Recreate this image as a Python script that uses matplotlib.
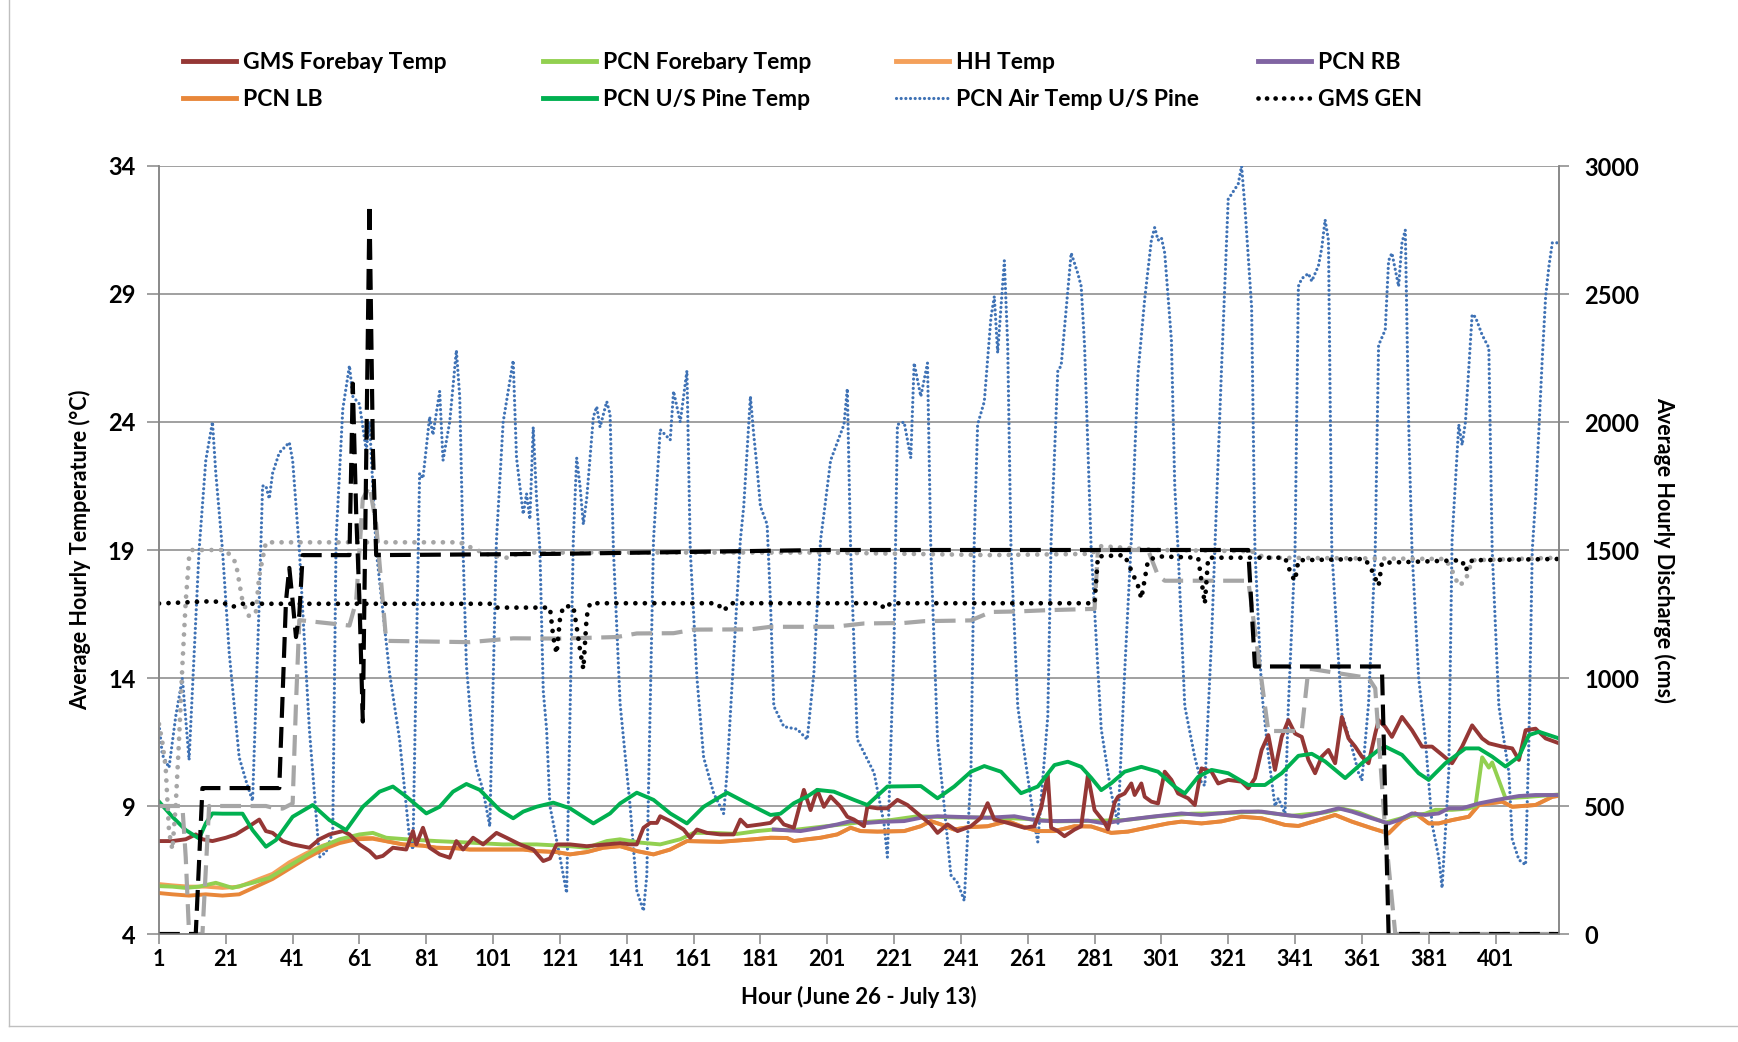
import matplotlib
matplotlib.use("Agg")
import matplotlib.pyplot as plt
from matplotlib.lines import Line2D

plt.rcParams['font.family'] = ['Lato', 'DejaVu Sans']
plt.rcParams['font.weight'] = 'bold'

# ---------------- data ----------------
x_ticks = [1, 21, 41, 61, 81, 101, 121, 141, 161, 181, 201, 221, 241, 261, 281, 301, 321, 341, 361, 381, 401]
temp_ticks = [4, 9, 14, 19, 24, 29, 34]
flow_ticks = [0, 500, 1000, 1500, 2000, 2500, 3000]

# PCN Air Temp U/S Pine (deg C)
air_h = [1, 2, 4, 6, 8, 10, 13, 15, 17, 18, 20, 22, 25, 27, 29, 31, 32, 33, 34, 35, 37, 40, 41, 43, 46, 49, 51, 53,
         54, 56, 58, 59, 61, 63, 64, 66, 70, 73, 76, 77, 79, 80, 82, 83, 85, 86, 88, 90, 91, 92, 93, 95, 96, 98, 100,
         102, 104, 107, 108, 109, 110, 111, 112, 113, 114, 115, 116, 117, 118, 121, 123, 125, 126, 127, 128, 129, 131,
         132, 133, 135, 136, 137, 139, 142, 144, 146, 147, 149, 151, 154, 155, 157, 159, 160, 162, 164, 167, 170, 171,
         175, 176, 178, 179, 180, 181, 183, 184, 185, 188, 192, 195, 197, 199, 200, 202, 206, 207, 208, 210, 215, 218,
         219, 221, 222, 224, 226, 227, 229, 231, 232, 234, 236, 238, 240, 242, 244, 245, 246, 248, 250, 251, 252, 254,
         255, 256, 258, 263, 264, 267, 268, 270, 271, 274, 276, 277, 278, 280, 283, 286, 288, 290, 292, 294, 296, 298,
         299, 300, 301, 302, 304, 305, 306, 308, 311, 313, 314, 316, 317, 319, 321, 324, 325, 326, 328, 329, 331, 333,
         335, 336, 338, 339, 341, 342, 343, 345, 346, 348, 349, 350, 351, 352, 355, 358, 360, 361, 363, 365, 366, 368,
         369, 370, 372, 373, 374, 375, 376, 378, 380, 382, 384, 385, 386, 387, 388, 390, 391, 392, 394, 395, 397, 399,
         400, 402, 405, 406, 408, 410, 411, 412, 413, 415, 416, 417, 418, 420]
air_t = [12.2, 11.0, 10.5, 12.5, 14.0, 10.8, 19.0, 22.5, 24.0, 22.0, 19.0, 15.0, 10.9, 10.0, 9.2, 17.0, 21.5, 21.5,
         21.0, 22.0, 22.8, 23.2, 22.5, 19.0, 12.0, 7.0, 7.2, 8.0, 19.4, 24.5, 26.2, 25.0, 24.7, 22.9, 24.0, 19.0, 14.2,
         11.6, 7.7, 7.3, 22.0, 21.8, 24.2, 23.5, 25.2, 22.5, 24.0, 26.8, 25.0, 19.0, 14.5, 11.3, 10.5, 9.6, 8.2, 19.4,
         24.0, 26.4, 22.6, 21.5, 20.4, 21.2, 20.2, 23.8, 21.0, 19.0, 13.5, 12.0, 9.0, 7.0, 5.6, 19.4, 22.6, 21.5, 20.0,
         21.0, 24.2, 24.6, 23.8, 24.8, 24.3, 19.0, 13.0, 9.0, 5.7, 4.9, 6.3, 19.4, 23.7, 23.3, 25.2, 24.0, 26.0, 19.0,
         14.0, 10.9, 9.5, 8.7, 10.3, 19.4, 20.7, 25.0, 23.5, 22.2, 20.7, 20.0, 17.0, 12.9, 12.1, 12.0, 11.6, 14.2,
         19.4, 20.4, 22.5, 23.9, 25.3, 19.0, 11.6, 10.3, 8.3, 7.0, 15.5, 23.9, 24.0, 22.6, 26.3, 25.0, 26.3, 19.0,
         11.6, 9.0, 6.3, 6.0, 5.3, 10.3, 19.4, 23.9, 24.8, 28.1, 28.9, 26.7, 30.3, 27.0, 19.0, 12.9, 8.3, 7.6, 12.5,
         19.4, 26.0, 26.2, 30.6, 29.8, 29.3, 27.0, 19.0, 12.0, 9.5, 8.3, 14.2, 19.4, 25.9, 28.8, 31.1, 31.6, 31.1,
         31.2, 30.6, 27.2, 21.5, 19.0, 12.9, 10.9, 9.9, 9.8, 15.5, 19.0, 26.1, 32.7, 33.3, 34.0, 32.4, 28.5, 19.0,
         13.5, 11.0, 9.0, 9.3, 8.7, 12.9, 19.0, 29.3, 29.6, 29.8, 29.5, 30.1, 30.8, 31.9, 31.1, 19.0, 12.6, 11.3,
         10.3, 10.0, 13.0, 19.0, 27.0, 27.6, 30.3, 30.6, 29.3, 31.0, 31.5, 24.0, 19.0, 14.0, 11.6, 8.3, 7.0, 5.8, 8.0,
         10.3, 19.4, 23.9, 23.1, 24.0, 28.2, 28.1, 27.4, 26.9, 19.0, 12.9, 10.3, 7.7, 6.9, 6.7, 11.6, 19.0, 21.0,
         26.5, 28.9, 30.1, 31.0, 31.0]

# PCN U/S Pine Temp
pine_h = [1, 5, 9, 13, 15, 17, 20, 26, 29, 33, 36, 41, 47, 52, 57, 62, 67, 71, 75, 81, 85, 89, 93, 97, 103, 107, 110,
          114, 119, 124, 131, 136, 139, 144, 149, 154, 159, 164, 171, 177, 184, 187, 191, 195, 198, 203, 209, 213, 219,
          229, 234, 239, 244, 248, 253, 259, 264, 269, 273, 277, 280, 283, 286, 290, 295, 300, 305, 308, 312, 316, 321,
          327, 332, 337, 342, 346, 350, 356, 361, 366, 368, 373, 378, 381, 386, 392, 396, 400, 404, 408, 411, 414, 420]
pine_t = [9.17, 8.58, 8.06, 7.73, 8.32, 8.71, 8.7, 8.7, 8.06, 7.41, 7.67, 8.58, 9.04, 8.45, 8.06, 8.97, 9.56, 9.76,
          9.37, 8.71, 8.97, 9.56, 9.86, 9.63, 8.84, 8.52, 8.78, 8.97, 9.13, 8.91, 8.32, 8.71, 9.1, 9.52, 9.24, 8.71,
          8.32, 8.97, 9.52, 9.11, 8.65, 8.7, 9.11, 9.37, 9.63, 9.56, 9.24, 9.04, 9.76, 9.78, 9.3, 9.76, 10.34, 10.56,
          10.34, 9.5, 9.76, 10.6, 10.73, 10.53, 10.1, 9.62, 9.89, 10.34, 10.53, 10.34, 9.75, 9.49, 10.14, 10.41,
          10.28, 9.82, 9.82, 10.28, 10.96, 11.04, 10.74, 10.09, 10.67, 11.19, 11.32, 11.0, 10.28, 10.02, 10.67, 11.25,
          11.25, 10.93, 10.54, 10.93, 11.77, 11.9, 11.64]

# GMS Forebay Temp
gms_h = [1, 5, 9, 12, 14, 17, 21, 24, 28, 31, 33, 35, 38, 41, 46, 49, 52, 56, 58, 61, 64, 66, 68, 71, 75, 77, 78, 80,
         82, 85, 88, 90, 92, 95, 98, 102, 105, 109, 113, 116, 118, 120, 124, 129, 135, 139, 142, 144, 146, 148, 150,
         151, 154, 158, 160, 162, 165, 169, 173, 175, 177, 181, 184, 186, 188, 191, 194, 196, 198, 200, 202, 205, 207,
         209, 212, 213, 216, 219, 222, 225, 228, 232, 234, 237, 240, 244, 247, 249, 251, 255, 260, 263, 265, 267, 268,
         270, 272, 275, 277, 279, 281, 284, 285, 287, 288, 290, 292, 293, 295, 296, 298, 300, 302, 304, 306, 309, 311,
         313, 316, 318, 321, 325, 327, 329, 331, 333, 335, 337, 339, 341, 343, 345, 347, 349, 351, 353, 355, 357, 359,
         361, 363, 365, 366, 368, 370, 373, 376, 379, 382, 385, 388, 391, 394, 397, 399, 403, 406, 408, 410, 413, 416,
         420]
gms_t = [7.63, 7.63, 7.7, 7.89, 7.7, 7.63, 7.76, 7.89, 8.21, 8.47, 8.02, 7.95, 7.63, 7.5, 7.37, 7.7, 7.89, 8.02,
         7.89, 7.5, 7.24, 6.98, 7.05, 7.37, 7.3, 8.02, 7.5, 8.15, 7.37, 7.11, 6.98, 7.63, 7.3, 7.76, 7.5, 7.95, 7.76,
         7.5, 7.3, 6.85, 6.95, 7.5, 7.5, 7.43, 7.5, 7.55, 7.5, 7.5, 8.15, 8.34, 8.34, 8.6, 8.41, 8.08, 7.76, 8.08,
         7.95, 7.89, 7.89, 8.47, 8.21, 8.28, 8.34, 8.6, 8.28, 8.15, 9.63, 8.84, 9.63, 8.97, 9.37, 8.97, 8.58, 8.47,
         8.21, 8.97, 8.91, 8.91, 9.24, 9.04, 8.71, 8.28, 7.95, 8.28, 8.02, 8.21, 8.54, 9.11, 8.47, 8.34, 8.15, 8.21,
         8.91, 10.21, 8.15, 8.02, 7.82, 8.08, 8.21, 10.2, 8.84, 8.35, 8.09, 9.13, 9.36, 9.49, 9.88, 9.43, 9.88, 9.36,
         9.17, 9.1, 10.34, 10.02, 9.49, 9.3, 9.04, 10.47, 10.34, 9.88, 10.02, 9.95, 9.69, 10.08, 11.19, 11.77, 10.41,
         11.7, 12.35, 11.83, 11.7, 10.8, 10.28, 10.93, 11.19, 10.67, 12.48, 11.64, 11.32, 10.93, 10.67, 11.83, 12.35,
         12.09, 11.7, 12.48, 11.96, 11.32, 11.32, 11.0, 10.67, 11.32, 12.15, 11.64, 11.45, 11.32, 11.25, 10.8, 11.96,
         12.02, 11.64, 11.45]

# PCN Forebary Temp
fb_h = [1, 5, 9, 13, 18, 23, 29, 34, 39, 44, 49, 55, 61, 65, 69, 75, 84, 94, 104, 114, 124, 129, 135, 139, 145, 151,
        157, 161, 167, 174, 180, 185, 190, 200, 210, 220, 228, 240, 250, 260, 270, 280, 290, 300, 310, 320, 330, 340,
        350, 355, 360, 368, 375, 380, 383, 388, 393, 395, 397, 399, 400, 402, 404, 410, 420]
fb_t = [5.87, 5.85, 5.8, 5.85, 6.0, 5.8, 6.0, 6.19, 6.58, 6.98, 7.37, 7.7, 7.89, 7.95, 7.76, 7.7, 7.63, 7.57, 7.5,
        7.5, 7.43, 7.37, 7.63, 7.7, 7.57, 7.5, 7.7, 7.95, 7.95, 7.91, 8.02, 8.08, 8.05, 8.2, 8.35, 8.45, 8.6, 8.55,
        8.55, 8.5, 8.4, 8.42, 8.45, 8.6, 8.7, 8.72, 8.78, 8.62, 8.75, 8.9, 8.75, 8.35, 8.6, 8.7, 8.85, 8.85, 8.9, 9.0,
        10.9, 10.5, 10.7, 10.0, 9.3, 9.35, 9.45]

# PCN RB
rb_h = [185, 193, 199, 204, 208, 213, 217, 224, 229, 234, 244, 249, 257, 264, 269, 279, 284, 290, 298, 307, 313, 318,
        325, 331, 338, 343, 348, 354, 358, 364, 369, 372, 376, 380, 384, 387, 391, 396, 401, 408, 413, 420]
rb_t = [8.08, 8.02, 8.15, 8.28, 8.41, 8.34, 8.38, 8.41, 8.54, 8.6, 8.56, 8.54, 8.6, 8.43, 8.41, 8.43, 8.32, 8.45,
        8.58, 8.71, 8.65, 8.71, 8.78, 8.78, 8.65, 8.58, 8.71, 8.91, 8.78, 8.52, 8.32, 8.45, 8.71, 8.65, 8.71, 8.91,
        8.91, 9.1, 9.23, 9.39, 9.43, 9.43]

# HH Temp
hh_h = [1, 5, 10, 15, 20, 25, 30, 35, 40, 45, 50, 55, 60, 65, 70, 74, 80, 84, 90, 94, 104, 110, 114, 120, 124, 129,
        134, 139, 144, 149, 154, 159, 169, 179, 184, 189, 191, 195, 199, 204, 208, 211, 216, 224, 229, 232, 235, 239,
        243, 249, 255, 259, 264, 269, 275, 280, 286, 291, 298, 303, 307, 313, 319, 325, 331, 338, 342, 348, 353, 358,
        364, 369, 373, 377, 381, 384, 388, 393, 396, 403, 406, 413, 418, 420]
hh_t = [5.95, 5.9, 5.85, 5.85, 5.8, 5.85, 6.1, 6.35, 6.8, 7.15, 7.45, 7.65, 7.78, 7.75, 7.6, 7.5, 7.45, 7.37, 7.35,
        7.3, 7.3, 7.3, 7.24, 7.2, 7.11, 7.2, 7.37, 7.43, 7.24, 7.11, 7.3, 7.63, 7.6, 7.7, 7.76, 7.75, 7.63, 7.7,
        7.76, 7.89, 8.15, 8.02, 8.0, 8.02, 8.21, 8.41, 8.28, 8.08, 8.17, 8.21, 8.41, 8.21, 8.02, 8.02, 8.21, 8.2,
        7.95, 8.0, 8.19, 8.32, 8.39, 8.32, 8.4, 8.58, 8.52, 8.26, 8.22, 8.45, 8.65, 8.39, 8.13, 7.93, 8.45, 8.71,
        8.32, 8.32, 8.45, 8.58, 9.04, 9.17, 8.97, 9.04, 9.36, 9.4]

# PCN LB (lower orange at the start, merging with HH Temp afterwards)
lb_early_h = [1, 5, 10, 15, 20, 25, 30, 35, 40, 45, 50, 55, 60, 65]
lb_early_t = [5.6, 5.55, 5.5, 5.55, 5.5, 5.55, 5.85, 6.15, 6.55, 6.95, 7.3, 7.55, 7.7, 7.72]

# GMS GEN (cms)
gen_h = [1, 17, 20, 23, 26, 100, 101, 118, 119, 120, 121, 122, 125, 126, 127, 128, 129, 130, 168, 170, 172, 217, 218,
         220, 281, 282, 290, 292, 294, 295, 297, 300, 312, 313, 314, 315, 338, 340, 341, 342, 362, 364, 366, 367, 391,
         392, 394, 420]
gen_q = [1291, 1300, 1295, 1278, 1290, 1290, 1275, 1275, 1160, 1095, 1230, 1280, 1280, 1200, 1110, 1035, 1240, 1292,
         1292, 1262, 1292, 1292, 1270, 1292, 1292, 1475, 1480, 1420, 1360, 1310, 1460, 1475, 1470, 1380, 1290, 1470,
         1470, 1400, 1380, 1460, 1465, 1420, 1360, 1450, 1460, 1420, 1460, 1465]

# black dashed discharge (no legend entry)
blk_h = [1, 12, 14, 37, 39, 40, 41, 42, 43, 44, 58, 59, 60, 61, 62, 64, 65, 66, 120, 200, 327, 329, 367, 369, 420]
blk_q = [0, 0, 570, 570, 1300, 1430, 1300, 1160, 1250, 1480, 1480, 2150, 1650, 1300, 830, 2850, 1900, 1480, 1485,
         1500, 1500, 1045, 1045, 0, 0]

# grey dashed discharge (no legend entry)
gds_h = [1, 8, 9, 10, 14, 15, 16, 33, 36, 38, 41, 42, 43, 58, 60, 62, 64, 66, 69, 94, 107, 121, 138, 144, 155, 161,
         178, 184, 203, 212, 224, 230, 244, 250, 258, 267, 281, 282, 297, 300, 302, 327, 333, 343, 345, 346, 363, 365,
         368, 371, 420]
gds_q = [500, 500, 300, 0, 0, 250, 500, 500, 490, 490, 510, 900, 1226, 1205, 1300, 1700, 1750, 1600, 1145, 1140, 1155,
         1154, 1160, 1174, 1175, 1189, 1190, 1200, 1200, 1213, 1215, 1222, 1225, 1258, 1260, 1265, 1270, 1500, 1500,
         1400, 1380, 1380, 793, 793, 1035, 1035, 1000, 960, 400, 0, 0]

# grey dotted discharge (no legend entry)
gdt_h = [1, 2, 3, 4, 5, 6, 7, 8, 9, 10, 11, 21, 24, 26, 28, 30, 31, 33, 91, 96, 100, 105, 110, 200, 250, 280, 283, 300,
         328, 332, 386, 388, 390, 392, 394, 420]
gdt_q = [820, 750, 650, 400, 330, 500, 760, 1050, 1300, 1470, 1500, 1500, 1450, 1300, 1240, 1260, 1400, 1530, 1530,
         1500, 1480, 1470, 1490, 1490, 1480, 1485, 1515, 1500, 1495, 1470, 1465, 1420, 1360, 1380, 1460, 1470]

lb_h = lb_early_h + [h for h in hh_h if h > 65]
lb_t = lb_early_t + [t for h, t in zip(hh_h, hh_t) if h > 65]

# ---------------- figure ----------------
W, H = 1738, 1042
fig = plt.figure(figsize=(W / 100, H / 100), dpi=100)
ax = fig.add_axes([159 / W, 1 - 934 / H, (1559 - 159) / W, (934 - 166) / H])
ax2 = ax.twinx()

grid_c = '#868686'
c_gms = '#953735'
c_fb = '#92D050'
c_hh = '#F4A05A'
c_rb = '#8064A2'
c_lb = '#E8873A'
c_pine = '#00B050'
c_air = '#3F72B5'
c_gray = '#A6A6A6'

dot = (0, (0.01, 1.45))
ax.plot(air_h, air_t, color=c_air, lw=2.3, linestyle=dot, dash_capstyle='round', zorder=2)
ax.plot(hh_h, hh_t, color=c_hh, lw=2.8, zorder=3)
ax.plot(lb_h, lb_t, color=c_lb, lw=2.8, zorder=3)
ax.plot(fb_h, fb_t, color=c_fb, lw=2.8, zorder=3)
ax.plot(rb_h, rb_t, color=c_rb, lw=2.8, zorder=3)
ax.plot(gms_h, gms_t, color=c_gms, lw=2.8, zorder=3)
ax.plot(pine_h, pine_t, color=c_pine, lw=2.8, zorder=3)

ax2.plot(gdt_h, gdt_q, color=c_gray, lw=3.4, linestyle=(0, (0.01, 2.0)), dash_capstyle='round')
ax2.plot(gds_h, gds_q, color=c_gray, lw=3.0, linestyle=(0, (5, 2.3)))
ax2.plot(gen_h, gen_q, color='black', lw=3.4, linestyle=(0, (0.01, 2.0)), dash_capstyle='round')
ax2.plot(blk_h, blk_q, color='black', lw=3.0, linestyle=(0, (5, 2.2)))

ax.set_xlim(1, 420)
ax.set_ylim(4, 34)
ax2.set_ylim(0, 3000)
ax.set_xticks(x_ticks)
ax.set_yticks(temp_ticks)
ax2.set_yticks(flow_ticks)

ax.grid(axis='y', color=grid_c, lw=1.1)
ax.set_axisbelow(True)
for a in (ax, ax2):
    a.spines['top'].set_visible(False)
    for s in ('left', 'right', 'bottom'):
        a.spines[s].set_color(grid_c)
        a.spines[s].set_linewidth(1.1)
ax.tick_params(axis='x', direction='out', length=7, width=1.1, color=grid_c, labelsize=15.5, pad=4)
ax.tick_params(axis='y', direction='out', length=9, width=1.1, color=grid_c, labelsize=17, pad=8)
ax2.tick_params(axis='y', direction='out', length=7, width=1.1, color=grid_c, labelsize=17, pad=11)

ax.set_xlabel('Hour (June 26 - July 13)', fontsize=16, fontweight='bold', labelpad=11)
ax.set_ylabel('Average Hourly Temperature (°C)', fontsize=15.5, fontweight='bold', labelpad=12)
ax2.set_ylabel('Average Hourly Discharge (cms)', fontsize=15.5, fontweight='bold', rotation=270, labelpad=26)

# legend: four columns with fixed starts, two rows each
cols = [
    [('GMS Forebay Temp', dict(color=c_gms, lw=3.5)), ('PCN LB', dict(color=c_lb, lw=3.5))],
    [('PCN Forebary Temp', dict(color=c_fb, lw=3.5)), ('PCN U/S Pine Temp', dict(color=c_pine, lw=3.5))],
    [('HH Temp', dict(color=c_hh, lw=3.5)),
     ('PCN Air Temp U/S Pine', dict(color=c_air, lw=2.3, linestyle=dot, dash_capstyle='round'))],
    [('PCN RB', dict(color=c_rb, lw=3.5)),
     ('GMS GEN', dict(color='black', lw=3.4, linestyle=(0, (0.01, 1.8)), dash_capstyle='round'))],
]
col_x = [183, 543, 896, 1258]
for cx, entries in zip(col_x, cols):
    handles = [Line2D([], [], **kw) for _, kw in entries]
    labels = [lab for lab, _ in entries]
    fig.legend(handles, labels, loc='upper left', bbox_to_anchor=(cx / W, 1 - 52 / H),
               frameon=False, borderpad=0, borderaxespad=0, handlelength=2.3, handletextpad=0.3,
               labelspacing=0.68, prop=dict(size=16.5, weight='bold'))

# chart-area border (left and bottom edges visible)
fig.add_artist(Line2D([9 / W, 9 / W], [1.0, 1 - 1026 / H], transform=fig.transFigure, color='#BFBFBF', lw=1.0))
fig.add_artist(Line2D([9 / W, 1.0], [1 - 1026 / H, 1 - 1026 / H], transform=fig.transFigure, color='#BFBFBF', lw=1.0))

fig.savefig('out.png', dpi=100)
